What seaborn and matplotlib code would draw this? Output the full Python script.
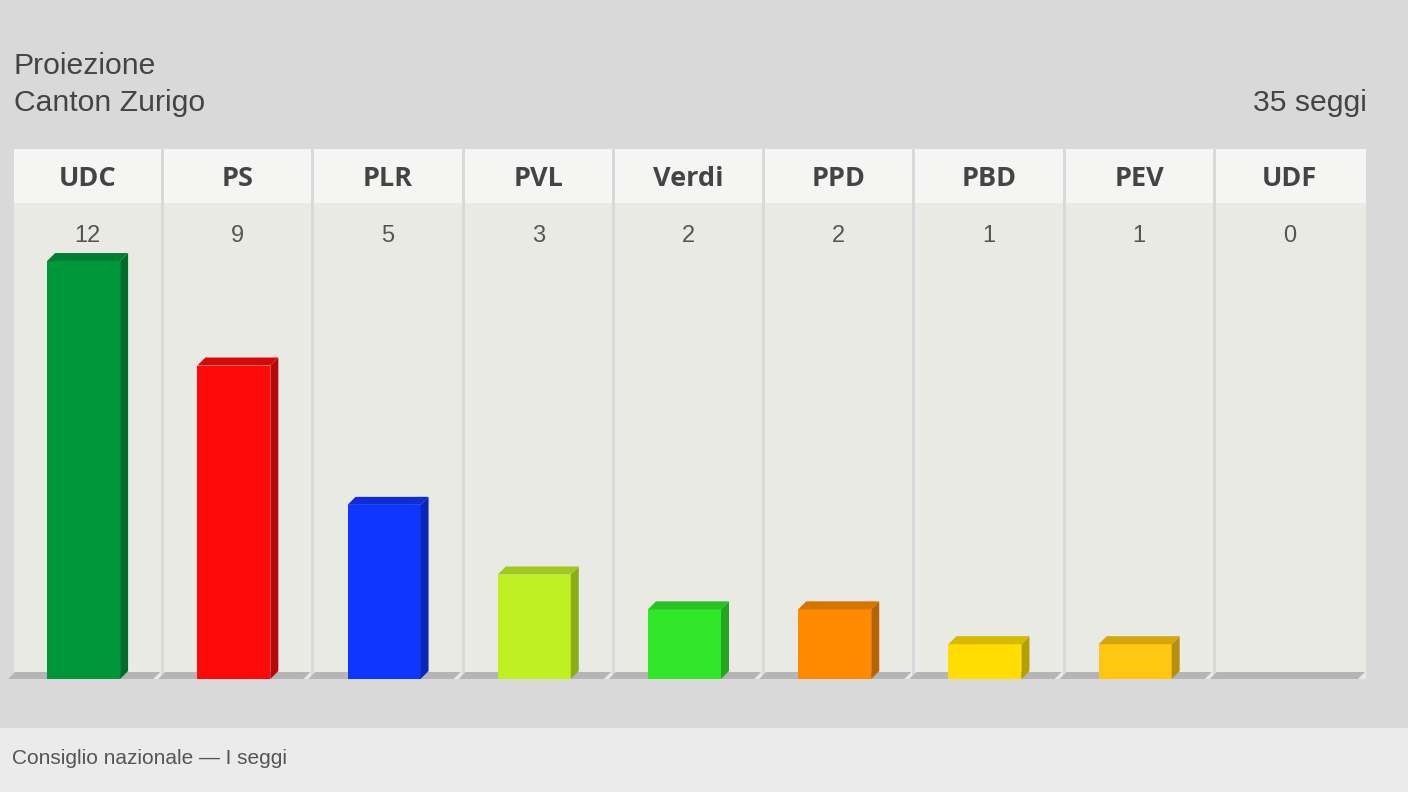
import numpy as np
import seaborn as sns
import matplotlib
matplotlib.use("Agg")
import matplotlib.pyplot as plt
from matplotlib.patches import Rectangle, Polygon
from matplotlib.colors import to_rgb

# %% Data
parties = ["UDC", "PS", "PLR", "PVL", "Verdi", "PPD", "PBD", "PEV", "UDF"]
seats = [12, 9, 5, 3, 2, 2, 1, 1, 0]
bar_colors = ["#00963a", "#ff0a0a", "#0f36ff", "#bff022", "#32e62a",
              "#ff8a00", "#ffdd00", "#ffc612", "#999999"]
title_lines = ["Proiezione", "Canton Zurigo"]
total_label = "35 seggi"
footer = "Consiglio nazionale \u2014 I seggi"

# %% Layout (pixels of the 1408x792 canvas)
W, H = 1408, 792
left_px, right_px = 14, 1366
top_px, floor_px = 149, 679
col_px = (right_px - left_px) / len(parties)
seat_px = 34.83
px_x = 1 / col_px
px_y = 1 / seat_px

sns.set_theme(style="white")
plt.rcParams["font.family"] = ["Liberation Sans", "DejaVu Sans"]

fig = plt.figure(figsize=(W / 100, H / 100), dpi=100)
fig.patch.set_facecolor("#d9d9d9")
fig.add_artist(Rectangle((0, 0), 1, (H - 728) / H, transform=fig.transFigure,
                         facecolor="#ebebeb", edgecolor="none"))

ax = fig.add_axes([left_px / W, (H - floor_px) / H,
                   (right_px - left_px) / W, (floor_px - top_px) / H])
ax.patch.set_alpha(0)
ytop = (floor_px - top_px) * px_y
y_hdr = (floor_px - 203) * px_y
gap = 3 * px_x

# column panels: header + body
for i in range(len(parties)):
    w = 1 - gap if i < len(parties) - 1 else 1
    ax.add_patch(Rectangle((i - 0.5, 0), w, y_hdr, facecolor="#eaeae5",
                           edgecolor="none", zorder=0))
    ax.add_patch(Rectangle((i - 0.5, y_hdr), w, ytop - y_hdr,
                           facecolor="#f5f5f4", edgecolor="none", zorder=0))
    # floor slab
    fx0 = i - 0.5 + 1 * px_x
    fx1 = i - 0.5 + w - 1 * px_x
    sh = 7 * px_x
    fy = 7 * px_y
    ax.add_patch(Polygon([(fx0 - sh, 0), (fx1 - sh, 0), (fx1, fy), (fx0, fy)],
                         closed=True, facecolor="#b5b5b5", edgecolor="none",
                         zorder=0.5, clip_on=False))

# %% Bars
sns.barplot(x=parties, y=seats, hue=parties, palette=bar_colors,
            saturation=1, width=73 * px_x, legend=False, ax=ax)

dx, dy = 8 * px_x, 8 * px_y
for patch, val, col in zip(ax.patches[-len(parties):], seats, bar_colors):
    if val == 0:
        patch.set_visible(False)
        continue
    patch.set_x(patch.get_x() - 5.5 * px_x)
    patch.set_zorder(2)
    patch.set_edgecolor("none")
    x0 = patch.get_x()
    x1 = x0 + patch.get_width()
    h = patch.get_height()
    rgb = np.array(to_rgb(col))
    ax.add_patch(Polygon([(x1, 0), (x1 + dx, dy), (x1 + dx, h + dy), (x1, h)],
                         closed=True, facecolor=rgb * 0.72, edgecolor="none",
                         zorder=2))
    ax.add_patch(Polygon([(x0, h), (x0 + dx, h + dy), (x1 + dx, h + dy), (x1, h)],
                         closed=True, facecolor=rgb * 0.84, edgecolor="none",
                         zorder=2))

# %% Labels
for i, (name, val) in enumerate(zip(parties, seats)):
    ax.text(i - gap / 2, (floor_px - 186) * px_y, name, ha="center",
            va="baseline", fontsize=19.5, fontweight="bold", color="#444444",
            family=["Open Sans", "DejaVu Sans"])
    ax.text(i - gap / 2, (floor_px - 242) * px_y, str(val), ha="center",
            va="baseline", fontsize=17, color="#555555")

ax.set_xlim(-0.5, len(parties) - 0.5)
ax.set_ylim(0, ytop)
ax.axis("off")

# %% Titles and footer
fig.text(14 / W, 1 - 74 / H, title_lines[0], fontsize=21.7, color="#444444",
         va="baseline")
fig.text(14 / W, 1 - 111 / H, title_lines[1], fontsize=21.7, color="#444444",
         va="baseline")
fig.text(1367 / W, 1 - 111 / H, total_label, fontsize=21.7, color="#444444",
         va="baseline", ha="right")
fig.text(12 / W, 1 - 764 / H, footer, fontsize=15, color="#555555",
         va="baseline")

fig.savefig("out.png", dpi=100, facecolor=fig.get_facecolor())
